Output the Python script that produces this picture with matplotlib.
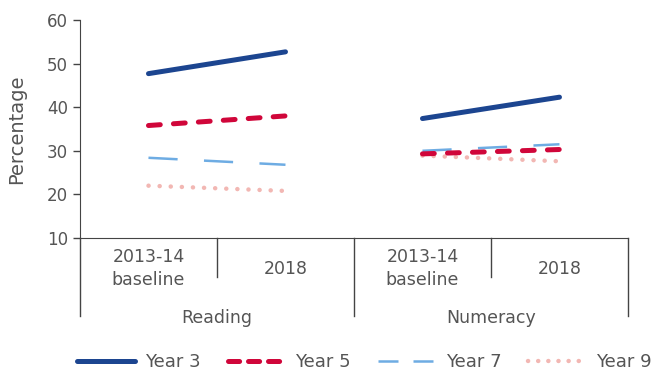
import matplotlib.pyplot as plt
from matplotlib import transforms
from matplotlib.lines import Line2D

plt.rcParams['font.family'] = ['DejaVu Sans']
plt.rcParams['lines.scale_dashes'] = False

TEXT = '#555555'
AXIS = '#444444'

groups = ['Reading', 'Numeracy']
periods = ['2013-14\nbaseline', '2018']
series = ['Year 3', 'Year 5', 'Year 7', 'Year 9']

# percentage per series: (reading baseline, reading 2018), (numeracy baseline, numeracy 2018)
year3 = [(47.7, 52.7), (37.4, 42.3)]
year5 = [(35.8, 38.0), (29.3, 30.3)]
year7 = [(28.4, 26.8), (30.0, 31.5)]
year9 = [(22.0, 20.8), (28.9, 27.6)]

styles = {
    'Year 3': dict(color='#1c4590', lw=3.6, solid_capstyle='round'),
    'Year 5': dict(color='#d0063a', lw=3.6, dashes=(8.5, 9.5), dash_capstyle='round'),
    'Year 7': dict(color='#6eace3', lw=1.8, dashes=(21, 19), dash_capstyle='butt'),
    'Year 9': dict(color='#f2b7b3', lw=3.2, dashes=(0.1, 7.9), dash_capstyle='round'),
}
# shorter dash patterns for the legend keys
legend_dashes = {'Year 3': None, 'Year 5': (8, 6.4), 'Year 7': (14.4, 10.8), 'Year 9': (0.1, 7.2)}

fig = plt.figure(figsize=(6.54, 3.72), dpi=100)
ax = fig.add_axes([0.1223, 0.3602, 0.8379, 0.586])

draw_order = [('Year 9', year9), ('Year 7', year7), ('Year 5', year5), ('Year 3', year3)]
for name, vals in draw_order:
    for g, pair in enumerate(vals):
        ax.plot([2 * g, 2 * g + 1], pair, **styles[name])

ax.set_xlim(-0.5, 3.5)
ax.set_ylim(10, 60)
ax.set_yticks(range(10, 61, 10))
ax.set_xticks([])
for s in ['top', 'right']:
    ax.spines[s].set_visible(False)
ax.spines['left'].set_color(AXIS)
ax.spines['bottom'].set_color(AXIS)
ax.tick_params(axis='y', colors=AXIS, labelcolor=TEXT, labelsize=12, length=5, width=1)
ax.set_ylabel('Percentage', fontsize=14, color=TEXT, labelpad=15)

# two-level category axis below the plot
trans = transforms.blended_transform_factory(ax.transData, ax.transAxes)
for x, depth in [(-0.5, -0.36), (0.5, -0.18), (1.5, -0.36), (2.5, -0.18), (3.5, -0.36)]:
    ax.plot([x, x], [0, depth], transform=trans, color=AXIS, lw=1, clip_on=False)
for g, grp in enumerate(groups):
    for p, per in enumerate(periods):
        ax.text(2 * g + p, -0.14, per, transform=trans, ha='center', va='center',
                fontsize=12.5, color=TEXT, linespacing=1.3)
    ax.text(2 * g + 0.5, -0.365, grp, transform=trans, ha='center', va='center',
            fontsize=12.5, color=TEXT)

handles = []
for name in series:
    st = dict(styles[name])
    if legend_dashes[name] is not None:
        st['dashes'] = legend_dashes[name]
    handles.append(Line2D([], [], **st))

fig.legend(handles=handles, labels=series, loc='center left', bbox_to_anchor=(0.118, 0.027),
           ncol=4, frameon=False, fontsize=13, handlelength=3.2, handletextpad=0.55,
           columnspacing=1.5, borderpad=0, borderaxespad=0, labelcolor=TEXT)

fig.savefig('out.png', dpi=100)
